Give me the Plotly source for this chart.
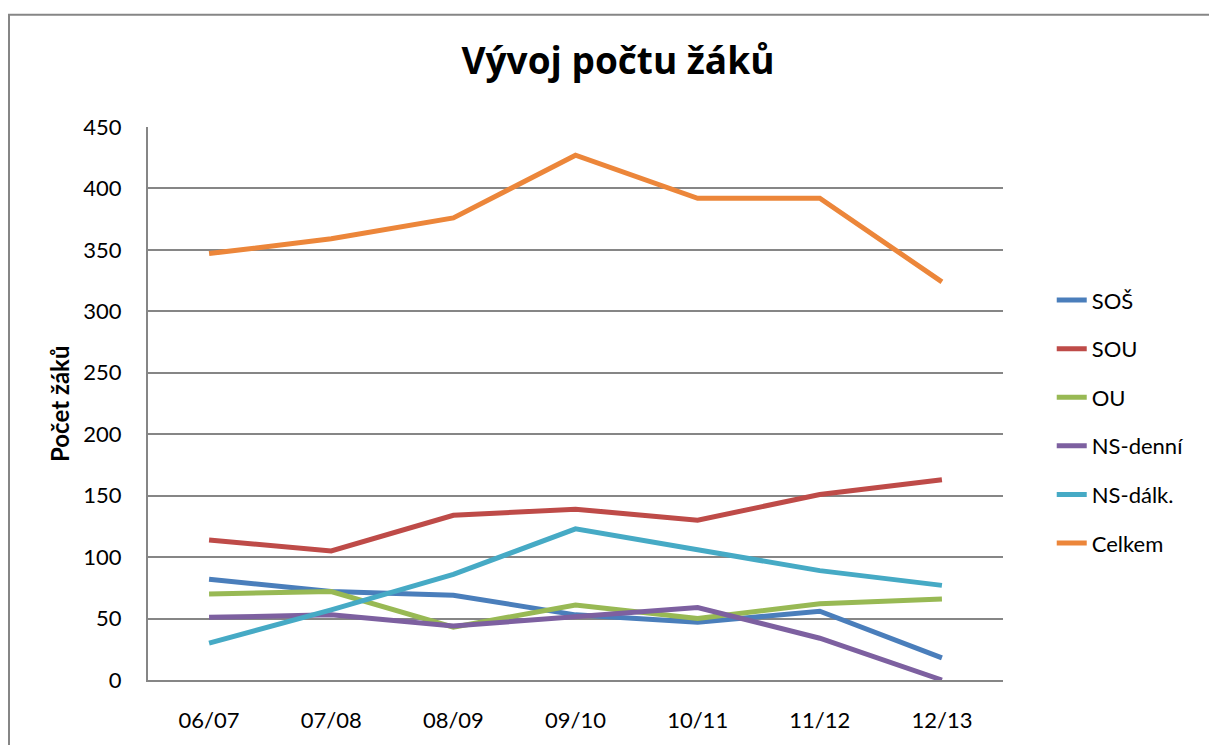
import plotly.graph_objects as go

categories = ["06/07", "07/08", "08/09", "09/10", "10/11", "11/12", "12/13"]
sos = [82, 72, 69, 53, 47, 56, 18]
sou = [114, 105, 134, 139, 130, 151, 163]
ou = [70, 72, 43, 61, 50, 62, 66]
ns_denni = [51, 53, 44, 51, 59, 34, 0]
ns_dalk = [30, 57, 86, 123, 106, 89, 77]
celkem = [347, 359, 376, 427, 392, 392, 324]

series_names = ["SOŠ", "SOU", "OU", "NS-denní", "NS-dálk.", "Celkem"]
series_values = [sos, sou, ou, ns_denni, ns_dalk, celkem]
colors = ["#4A7EBB", "#BE4B48", "#98B954", "#7D60A0", "#46AAC5", "#EC863A"]

FONT = "Lato"
W, H = 1209, 737  # page body has an 8px margin

fig = go.Figure()
for name, vals, col in zip(series_names, series_values, colors):
    fig.add_trace(go.Scatter(
        x=categories, y=vals, name=name, mode="lines",
        line=dict(color=col, width=5), legendgroup=name,
    ))

fig.update_layout(
    width=W, height=H,
    margin=dict(l=140, r=W - 140 - 855, t=119, b=H - 119 - 557),
    paper_bgcolor="white", plot_bgcolor="white",
    font=dict(family=FONT, size=22, color="black"),
    title=dict(text="<b>Vývoj počtu žáků</b>", x=(618 - 8) / W, xanchor="center",
               y=1 - (61 - 8) / H, yanchor="middle", xref="container", yref="container",
               font=dict(family="Open Sans", size=37, color="black")),
    showlegend=True,
    legend=dict(x=1.057, xanchor="left", y=0.467, yanchor="middle",
                font=dict(family=FONT, size=22), tracegroupgap=17,
                bgcolor="rgba(0,0,0,0)"),
    xaxis=dict(type="category", range=[-0.5, len(categories) - 0.5],
               showgrid=False, showline=True, linecolor="#868686",
               linewidth=2, ticks="", ticklabelstandoff=20, zeroline=False),
    yaxis=dict(range=[0, 450], dtick=50, showgrid=True, gridcolor="#868686",
               gridwidth=1.5, showline=True, linecolor="#868686", linewidth=2,
               ticks="", ticklabelstandoff=20, zeroline=False),
    shapes=[dict(type="rect", xref="paper", yref="paper",
                 x0=(9 - 148) / 855, x1=1.35, y0=-0.3, y1=(684 - 14) / 557,
                 line=dict(color="#868686", width=2), fillcolor="rgba(0,0,0,0)",
                 layer="below")],
    annotations=[dict(text="<b>Počet žáků</b>", x=(60 - 148) / 855, y=(684 - 406) / 557,
                      xref="paper", yref="paper", textangle=-90, showarrow=False,
                      xanchor="center", yanchor="middle",
                      font=dict(family=FONT, size=24, color="black"))],
)

fig.write_html("out.html")
